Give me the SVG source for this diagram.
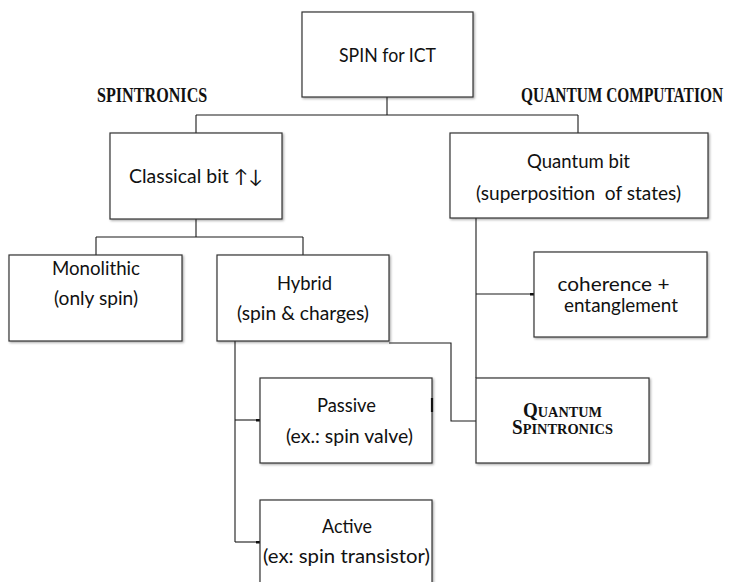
<svg xmlns="http://www.w3.org/2000/svg" width="729" height="582" viewBox="0 0 729 582">
  <style>
    .box { fill: #ffffff; stroke: #333333; stroke-width: 1.2; filter: url(#shadow); }
    .wire { fill: none; stroke: #1a1a1a; stroke-width: 1.1; }
    .t { font-family: Lato, "Open Sans", "Liberation Sans", sans-serif; font-size: 18.5px; fill: #111111; text-anchor: middle; white-space: pre; }
    .head { font-family: "Liberation Serif", "DejaVu Serif", serif; font-weight: bold; font-size: 21px; fill: #111111; }
    .sc { font-family: "Liberation Serif", "DejaVu Serif", serif; font-weight: bold; fill: #111111; text-anchor: middle; }
  </style>
  <defs>
    <filter id="shadow" x="-5%" y="-5%" width="115%" height="115%">
      <feDropShadow dx="1.2" dy="1.2" stdDeviation="0.8" flood-color="#000000" flood-opacity="0.35"/>
    </filter>
    <marker id="stub" markerWidth="4" markerHeight="3" refX="4" refY="1.5" orient="auto" markerUnits="userSpaceOnUse">
      <rect x="0" y="0" width="4" height="3" fill="#111111"/>
    </marker>
  </defs>

  <!-- branch headings (condensed bold serif) -->
  <text class="head" transform="translate(97,102) scale(0.74,1)" textLength="149" lengthAdjust="spacingAndGlyphs">SPINTRONICS</text>
  <text class="head" transform="translate(521,102) scale(0.74,1)" textLength="273" lengthAdjust="spacingAndGlyphs">QUANTUM COMPUTATION</text>

  <!-- connectors -->
  <g id="connectors">
    <path class="wire" d="M387,97 V115 M196,115 H578 M196,115 V133 M578,115 V133"/>
    <path class="wire" d="M196,219 V237 M96,237 H303 M96,237 V255 M303,237 V255"/>
    <path class="wire" d="M476,218 V378"/>
    <path class="wire" d="M476,294 H534" marker-end="url(#stub)"/>
    <path class="wire" d="M235,341 V542"/>
    <path class="wire" d="M235,420 H260" marker-end="url(#stub)"/>
    <path class="wire" d="M235,542 H260" marker-end="url(#stub)"/>
    <path class="wire" d="M389,343 H451 V421 H476"/>
  </g>

  <g id="spin-for-ict">
    <rect class="box" x="302" y="12" width="171" height="85"/>
    <text class="t" x="387.5" y="62" textLength="97" lengthAdjust="spacingAndGlyphs">SPIN for ICT</text>
  </g>

  <g id="classical-bit">
    <rect class="box" x="110" y="133" width="172" height="86"/>
    <text class="t" x="196" y="183" textLength="134" lengthAdjust="spacingAndGlyphs">Classical bit ↑↓</text>
  </g>

  <g id="quantum-bit">
    <rect class="box" x="450" y="133" width="258" height="85"/>
    <text class="t" x="578.5" y="168" textLength="103" lengthAdjust="spacingAndGlyphs">Quantum bit</text>
    <text class="t" x="578.5" y="200" textLength="205" lengthAdjust="spacingAndGlyphs">(superposition  of states)</text>
  </g>

  <g id="monolithic">
    <rect class="box" x="9" y="255" width="173" height="86"/>
    <text class="t" x="96" y="275" textLength="88" lengthAdjust="spacingAndGlyphs">Monolithic</text>
    <text class="t" x="96" y="305" textLength="84" lengthAdjust="spacingAndGlyphs">(only spin)</text>
  </g>

  <g id="hybrid">
    <rect class="box" x="217" y="255" width="172" height="86"/>
    <text class="t" x="304.5" y="290" textLength="55" lengthAdjust="spacingAndGlyphs">Hybrid</text>
    <text class="t" x="303" y="320" textLength="132" lengthAdjust="spacingAndGlyphs">(spin &amp; charges)</text>
  </g>

  <g id="coherence">
    <rect class="box" x="534" y="252" width="173" height="85"/>
    <text class="t" x="613.5" y="291" textLength="112" lengthAdjust="spacingAndGlyphs">coherence +</text>
    <text class="t" x="621" y="312" textLength="114" lengthAdjust="spacingAndGlyphs">entanglement</text>
  </g>

  <g id="passive">
    <rect class="box" x="260" y="378" width="172" height="85"/>
    <line x1="432" y1="398" x2="432" y2="412" stroke="#111111" stroke-width="2.2"/>
    <text class="t" x="346.5" y="412" textLength="59" lengthAdjust="spacingAndGlyphs">Passive</text>
    <text class="t" x="349.5" y="443" textLength="127" lengthAdjust="spacingAndGlyphs">(ex.: spin valve)</text>
  </g>

  <g id="active">
    <rect class="box" x="260" y="500" width="172" height="92"/>
    <text class="t" x="347" y="533" textLength="50" lengthAdjust="spacingAndGlyphs">Active</text>
    <text class="t" x="346.5" y="563" textLength="167" lengthAdjust="spacingAndGlyphs">(ex: spin transistor)</text>
  </g>

  <g id="quantum-spintronics">
    <rect class="box" x="476" y="378" width="173" height="85"/>
    <text class="sc" x="562.5" y="417" textLength="79" lengthAdjust="spacingAndGlyphs"><tspan font-size="20">Q</tspan><tspan font-size="15">UANTUM</tspan></text>
    <text class="sc" x="562.5" y="434" textLength="101" lengthAdjust="spacingAndGlyphs"><tspan font-size="20">S</tspan><tspan font-size="15">PINTRONICS</tspan></text>
  </g>
</svg>
